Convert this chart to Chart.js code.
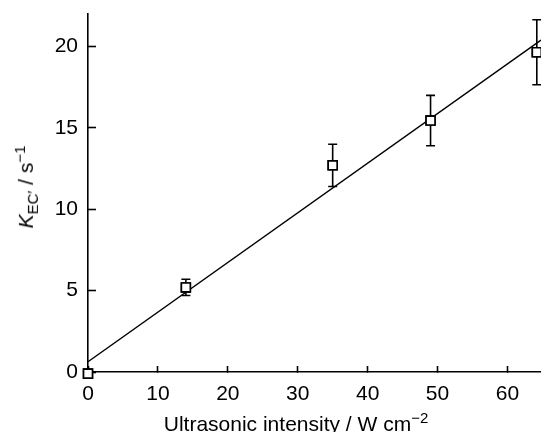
<!DOCTYPE html>
<html>
<head>
<meta charset="utf-8">
<script src="https://cdn.jsdelivr.net/npm/chart.js@4/dist/chart.umd.min.js"></script>
<style>
  body { margin: 0; background: #fff; }
  #wrap { position: relative; width: 541px; height: 432px; }
  .ttl { position: absolute; font-family: "Liberation Sans", Arial, sans-serif; font-size: 21px; color: #000; white-space: nowrap; line-height: 1; }
  .ttl sub, .ttl sup { font-size: 15px; }
  #xTitle { left: 296px; top: 422px; transform: translate(-50%, -50%); }
  #yTitle { left: 26px; top: 187px; transform: translate(-50%, -50%) rotate(-90deg); }
</style>
</head>
<body>
<div id="wrap">
  <canvas id="myChart" width="541" height="432"></canvas>
  <div class="ttl" id="xTitle">Ultrasonic intensity / W cm<sup>−2</sup></div>
  <div class="ttl" id="yTitle"><i>K</i><sub>EC′</sub> / s<sup>−1</sup></div>
</div>
<script>
// measured points
const intensity = [0, 14, 35, 49, 64.2];
const kEC = [-0.1, 5.2, 12.7, 15.45, 19.65];
const kErr = [0, 0.5, 1.3, 1.55, 2.0];

// fitted straight line (end points)
const fitX = [0, 64.8];
const fitY = [0.63, 20.4];

const xTicks = [0, 10, 20, 30, 40, 50, 60];
const yTicks = [0, 5, 10, 15, 20];

const errorBars = {
  id: 'errorBars',
  afterDatasetsDraw(chart) {
    const ctx = chart.ctx;
    const xs = chart.scales.x, ys = chart.scales.y;
    ctx.save();
    ctx.strokeStyle = '#000';
    ctx.lineWidth = 1.6;
    intensity.forEach((x, i) => {
      if (!kErr[i]) return;
      const px = xs.getPixelForValue(x);
      const top = ys.getPixelForValue(kEC[i] + kErr[i]);
      const bot = ys.getPixelForValue(kEC[i] - kErr[i]);
      ctx.beginPath();
      ctx.moveTo(px, top); ctx.lineTo(px, bot);
      ctx.moveTo(px - 4.5, top); ctx.lineTo(px + 4.5, top);
      ctx.moveTo(px - 4.5, bot); ctx.lineTo(px + 4.5, bot);
      ctx.stroke();
    });
    ctx.restore();
    // squares sit over the bars
    chart.getDatasetMeta(1).data.forEach(p => p.draw(ctx, chart.chartArea));
  }
};

const ctx = document.getElementById('myChart').getContext('2d');
new Chart(ctx, {
  type: 'scatter',
  data: {
    datasets: [
      {
        type: 'line',
        data: fitX.map((x, i) => ({ x, y: fitY[i] })),
        borderColor: '#000',
        borderWidth: 1.5,
        pointRadius: 0,
        fill: false,
        clip: false,
      },
      {
        data: intensity.map((x, i) => ({ x, y: kEC[i] })),
        pointStyle: 'rect',
        pointRadius: 6.3,
        backgroundColor: '#fff',
        borderColor: '#000',
        borderWidth: 1.6,
        clip: false,
      },
    ],
  },
  options: {
    responsive: false,
    animation: false,
    layout: { autoPadding: false, padding: { top: 14, right: 0, left: 0, bottom: 0 } },
    plugins: { legend: { display: false }, tooltip: { enabled: false } },
    scales: {
      x: {
        type: 'linear',
        min: 0,
        max: 64.8,
        afterBuildTicks: s => { s.ticks = xTicks.map(v => ({ value: v })); },
        afterFit: s => { s.height = 60; s.paddingLeft = 0; s.paddingRight = 0; },
        grid: { drawOnChartArea: false, tickLength: -6, tickWidth: 1.6, tickColor: '#000' },
        border: { color: '#000', width: 1.6 },
        ticks: { color: '#000', padding: 16, maxRotation: 0, font: { family: 'Liberation Sans', size: 21 } },
      },
      y: {
        type: 'linear',
        min: 0,
        max: 22,
        afterBuildTicks: s => { s.ticks = yTicks.map(v => ({ value: v })); },
        afterFit: s => { s.width = 88; s.paddingTop = 0; s.paddingBottom = 0; },
        grid: { drawOnChartArea: false, tickLength: -8, tickWidth: 1.6, tickColor: '#000' },
        border: { color: '#000', width: 1.6 },
        ticks: { color: '#000', padding: 18, font: { family: 'Liberation Sans', size: 21 } },
      },
    },
  },
  plugins: [errorBars],
});
</script>
</body>
</html>
